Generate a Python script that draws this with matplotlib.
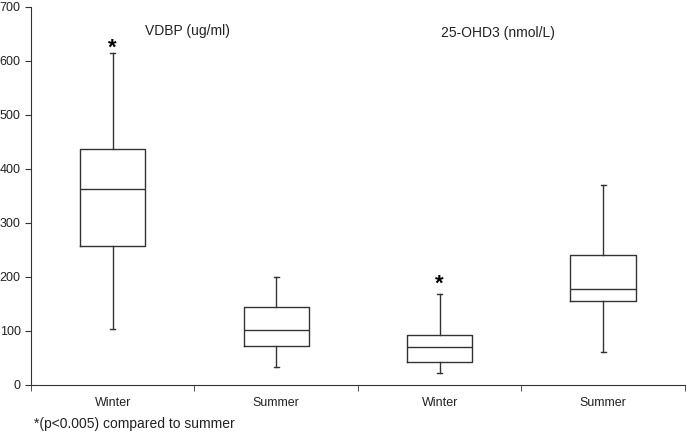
import matplotlib
matplotlib.use("Agg")
import matplotlib.pyplot as plt

plt.rcParams["font.family"] = ["Liberation Sans", "DejaVu Sans"]

# box-plot summary values
groups = ["Winter", "Summer", "Winter", "Summer"]
whisk_lo = [104, 34, 22, 62]
q1 = [257, 72, 43, 155]
median = [363, 101, 70, 178]
q3 = [437, 145, 93, 241]
whisk_hi = [615, 200, 168, 370]
star_y = [624, 186]          # asterisks over the winter boxes
star_x = [1, 3]

stats = []
for i, lab in enumerate(groups):
    stats.append(dict(label=lab, whislo=whisk_lo[i], q1=q1[i], med=median[i],
                      q3=q3[i], whishi=whisk_hi[i], fliers=[]))

fig = plt.figure(figsize=(6.89, 4.37), dpi=100, facecolor="white")
ax = fig.add_axes([0.045, 0.119, 0.949, 0.865])

lc = "#333333"
ax.bxp(stats, positions=range(1, 5), widths=0.4, capwidths=0.03, showfliers=False,
       boxprops=dict(color=lc, linewidth=1.0),
       whiskerprops=dict(color=lc, linewidth=1.0),
       capprops=dict(color=lc, linewidth=1.0),
       medianprops=dict(color=lc, linewidth=1.0))

for x, y in zip(star_x, star_y):
    ax.text(x, y, "*", ha="center", va="center", fontsize=16, fontweight="bold",
            color="black")

ax.text(1.2, 655, "VDBP (ug/ml)", ha="left", va="center", fontsize=10, color="#222222")
ax.text(3.01, 652, "25-OHD3 (nmol/L)", ha="left", va="center", fontsize=10, color="#222222")

ax.set_xlim(0.5, 4.5)
ax.set_ylim(0, 700)
ax.set_yticks(range(0, 701, 100))
ax.set_xticks(range(1, 5))
ax.set_xticklabels(groups)
ax.set_xticks([0.5, 1.5, 2.5, 3.5, 4.5], minor=True)
ax.tick_params(axis="x", which="major", length=0, pad=9, labelsize=9, colors="#222222")
ax.tick_params(axis="x", which="minor", length=4, direction="out", color=lc)
ax.tick_params(axis="y", length=4, labelsize=9, colors="#222222", color=lc)
for s in ["top", "right"]:
    ax.spines[s].set_visible(False)
for s in ["left", "bottom"]:
    ax.spines[s].set_color(lc)

fig.text(0.05, 0.029, "*(p<0.005) compared to summer", ha="left", va="center",
         fontsize=10, color="#222222")

fig.savefig("out.png", dpi=100, facecolor="white")
